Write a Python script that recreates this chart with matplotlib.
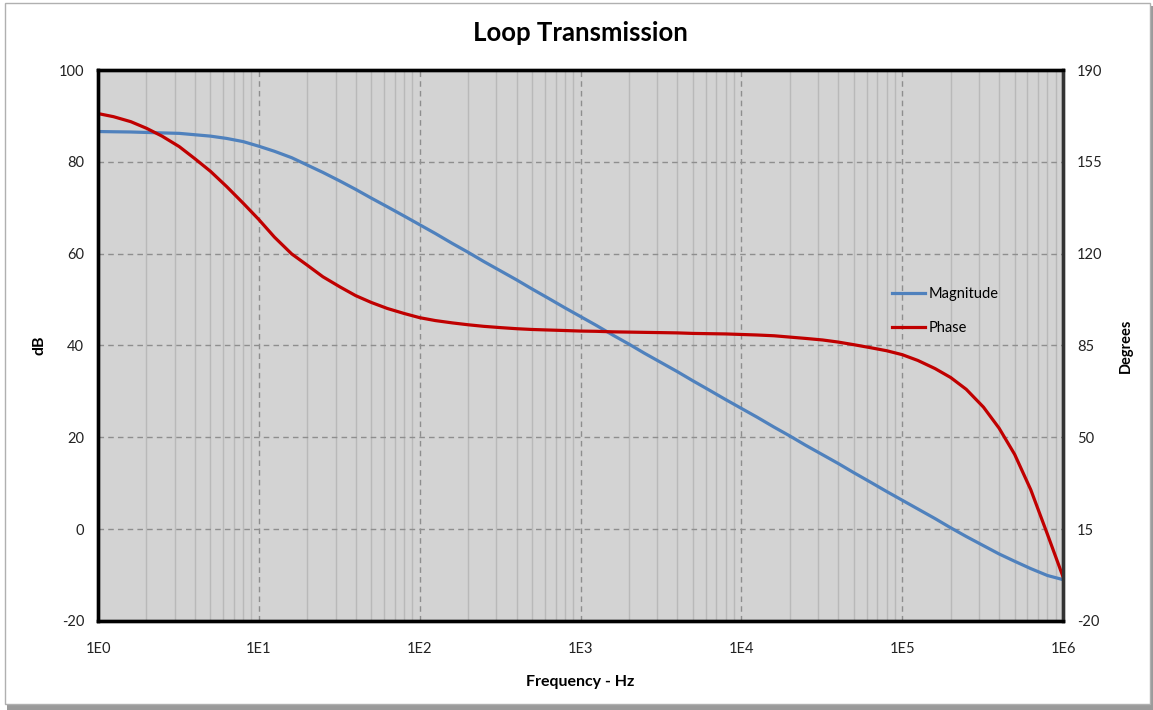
import matplotlib
matplotlib.use("Agg")
import matplotlib.pyplot as plt
from matplotlib.patches import Rectangle
from matplotlib.ticker import FixedLocator, FixedFormatter, LogLocator, NullFormatter

plt.rcParams["font.family"] = ["Lato", "DejaVu Sans"]
plt.rcParams["axes.unicode_minus"] = False

# values, 10 points per decade
freq_hz = [1, 1.25, 1.6, 2, 2.5, 3.2, 4, 5, 6.3, 8,
           10, 12.5, 16, 20, 25, 32, 40, 50, 63, 80,
           100, 125, 160, 200, 250, 320, 400, 500, 630, 800,
           1e3, 1.25e3, 1.6e3, 2e3, 2.5e3, 3.2e3, 4e3, 5e3, 6.3e3, 8e3,
           1e4, 1.25e4, 1.6e4, 2e4, 2.5e4, 3.2e4, 4e4, 5e4, 6.3e4, 8e4,
           1e5, 1.25e5, 1.6e5, 2e5, 2.5e5, 3.2e5, 4e5, 5e5, 6.3e5, 8e5,
           1e6]
magnitude_db = [86.6, 86.55, 86.5, 86.4, 86.3, 86.2, 85.9, 85.6, 85.1, 84.4,
                83.4, 82.3, 80.9, 79.3, 77.7, 75.8, 74.0, 72.1, 70.2, 68.2,
                66.3, 64.4, 62.2, 60.3, 58.3, 56.2, 54.3, 52.3, 50.3, 48.2,
                46.3, 44.4, 42.2, 40.3, 38.3, 36.2, 34.3, 32.3, 30.3, 28.2,
                26.3, 24.4, 22.2, 20.3, 18.3, 16.2, 14.3, 12.3, 10.3, 8.2,
                6.3, 4.4, 2.3, 0.3, -1.6, -3.6, -5.4, -7.0, -8.6, -10.1,
                -11.0]
phase_deg = [173.4, 172.2, 170.3, 167.8, 164.8, 160.8, 156.2, 151.4, 145.6, 139.2,
             133.0, 126.3, 119.9, 115.6, 111.2, 107.3, 104.0, 101.4, 99.1, 97.2,
             95.6, 94.5, 93.6, 92.9, 92.3, 91.8, 91.4, 91.1, 90.9, 90.7,
             90.5, 90.4, 90.2, 90.1, 90.0, 89.9, 89.8, 89.6, 89.5, 89.4,
             89.2, 89.0, 88.7, 88.2, 87.7, 87.1, 86.3, 85.3, 84.2, 83.0,
             81.5, 79.3, 76.2, 72.8, 68.3, 61.5, 53.5, 43.5, 30.0, 13.0,
             -3.2]

x_ticks = [1, 10, 100, 1e3, 1e4, 1e5, 1e6]
x_tick_labels = ["1E0", "1E1", "1E2", "1E3", "1E4", "1E5", "1E6"]
db_ticks = [-20, 0, 20, 40, 60, 80, 100]
deg_ticks = [-20, 15, 50, 85, 120, 155, 190]

fig = plt.figure(figsize=(11.53, 7.10), dpi=100)
fig.patch.set_facecolor("white")

# chart frame with a soft shadow, like the spreadsheet export
fig.patches.append(Rectangle((0.006, 0.0), 0.994, 0.992, transform=fig.transFigure,
                             facecolor="#9A9A9A", edgecolor="none", zorder=-3))
fig.patches.append(Rectangle((0.004, 0.008), 0.993, 0.988, transform=fig.transFigure,
                             facecolor="white", edgecolor="#B0B0B0", linewidth=1.0, zorder=-2))

ax = fig.add_axes([0.085, 0.1254, 0.837, 0.776])
ax.set_facecolor("#D3D3D3")
ax.set_xscale("log")
ax.set_xlim(1, 1e6)
ax.set_ylim(-20, 100)

ax.xaxis.set_major_locator(FixedLocator(x_ticks))
ax.xaxis.set_major_formatter(FixedFormatter(x_tick_labels))
ax.xaxis.set_minor_locator(LogLocator(base=10, subs=range(2, 10), numticks=20))
ax.xaxis.set_minor_formatter(NullFormatter())
ax.set_yticks(db_ticks)

ax.grid(which="minor", axis="x", color="#B9B9B9", linestyle="-", linewidth=1.0)
ax.grid(which="major", axis="both", color="#8E8E8E", linestyle=(0, (4, 3)), linewidth=1.0)
ax.set_axisbelow(True)

ax.tick_params(which="both", length=0, labelsize=10.5, colors="#222222")
ax.tick_params(axis="x", pad=15)
ax.tick_params(axis="y", pad=10)

line_mag, = ax.plot(freq_hz, magnitude_db, color="#4F81BD", linewidth=2.3, label="Magnitude")

ax2 = ax.twinx()
ax2.set_ylim(-20, 190)
ax2.set_yticks(deg_ticks)
ax2.tick_params(length=0, labelsize=10.5, colors="#222222", pad=10)
line_ph, = ax2.plot(freq_hz, phase_deg, color="#C00000", linewidth=2.3, label="Phase")

for a in (ax, ax2):
    for side in ("top", "bottom", "left"):
        a.spines[side].set_linewidth(2.4)
        a.spines[side].set_color("black")
    a.spines["right"].set_linewidth(2.4)
    a.spines["right"].set_color("#333333")

ax.set_xlabel("Frequency - Hz", fontsize=11.5, fontweight="bold", labelpad=14)
ax.set_ylabel("dB", fontsize=11.5, fontweight="bold", labelpad=9)
ax2.set_ylabel("Degrees", fontsize=10.5, fontweight="bold", labelpad=12)
ax.set_title("Loop Transmission", fontsize=18.5, fontweight="bold", pad=21)

ax2.legend(handles=[line_mag, line_ph], loc="upper left", bbox_to_anchor=(0.809, 0.63),
           frameon=False, fontsize=10.5, handlelength=2.3, handletextpad=0.2,
           labelspacing=1.35)

fig.savefig("out.png", dpi=100)
